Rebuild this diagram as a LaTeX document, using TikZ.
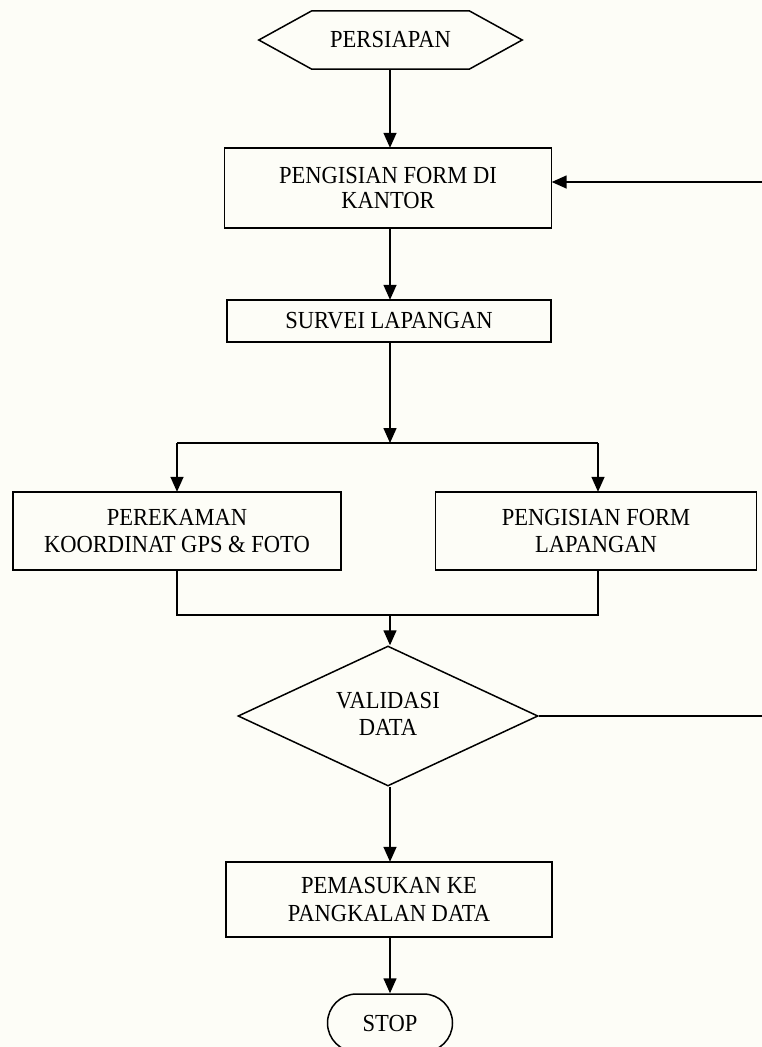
\documentclass[tikz,border=0pt]{standalone}
\usepackage{fontspec}
\setmainfont[FakeStretch=0.92]{Liberation Serif}
\usetikzlibrary{shapes.geometric,shapes.misc,arrows.meta,calc}
\definecolor{bg}{RGB}{253,253,247}
\tikzset{
  lbl/.style={align=center, inner sep=0pt, font=\fontsize{24.5}{25}\selectfont},
  wide/.style={font=\fontsize{24.5}{27.5}\selectfont},
  procbox/.style={lbl, rectangle},
  flow/.style={line width=1.5pt},
  arr/.style={flow, -{Triangle[length=15pt,width=13pt]}},
}
\begin{document}
\begin{tikzpicture}[x=1pt,y=-1pt]
\fill[bg] (0,0) rectangle (762,1047);
\useasboundingbox (0,0) rectangle (762,1047);

% start hexagon
\node[lbl, minimum width=263pt, minimum height=58pt] (prep) at (390.5,40) {PERSIAPAN};
\draw[flow] (prep.west) -- ([xshift=53pt]prep.north west) -- ([xshift=-53pt]prep.north east)
  -- (prep.east) -- ([xshift=-53pt]prep.south east) -- ([xshift=53pt]prep.south west) -- cycle;

\node[procbox, minimum width=327pt, minimum height=80pt] (kantor) at (388,188) {PENGISIAN FORM DI\\KANTOR};
\node[procbox, minimum width=324pt, minimum height=42pt] (survei) at (389,321) {SURVEI LAPANGAN};
\node[procbox, wide, minimum width=328pt, minimum height=78pt] (perek) at (177,531) {PEREKAMAN\\KOORDINAT GPS \& FOTO};
\node[procbox, wide, minimum width=321pt, minimum height=78pt] (lap) at (596,531) {PENGISIAN FORM\\LAPANGAN};
\node[lbl, wide, draw, diamond, aspect=2.14, minimum width=300pt, minimum height=140pt, line width=1.5pt] (val) at (388,716) {};
\node[lbl, wide] (valtxt) at ([yshift=2pt]val.center) {VALIDASI\\DATA};
\node[procbox, wide, minimum width=326pt, minimum height=75pt] (pem) at (389,899.5) {PEMASUKAN KE\\PANGKALAN DATA};
\node[lbl, draw, rounded rectangle, minimum width=125pt, minimum height=58pt, line width=1.5pt] (stop) at (390,1023) {STOP};

\foreach \n in {kantor,survei,perek,lap,pem}{\draw[flow] (\n.north west) rectangle (\n.south east);}

\coordinate (S) at (390,443);
\coordinate (L) at (177,443);
\coordinate (R) at (598,443);
\coordinate (M) at (390,615);
\coordinate (ML) at (177,615);
\coordinate (MR) at (598,615);
\coordinate (fb1) at (775,716);
\coordinate (fb2) at (775,182);

\draw[arr] (prep.south -| S) -- (kantor.north -| S);
\draw[arr] (kantor.south -| S) -- (survei.north -| S);
\draw[arr] (survei.south -| S) -- (S);
\draw[flow] (L) -- (R);
\draw[arr] (L) -- (perek.north -| L);
\draw[arr] (R) -- (lap.north -| R);
\draw[flow] (perek.south -| ML) -- (ML) -- (MR) -- (lap.south -| MR);
\draw[arr] (M) -- (val.north -| M);
\draw[arr] (val.south -| M) -- (pem.north -| M);
\draw[arr] (pem.south -| M) -- (stop.north -| M);
\draw[arr] (val.east) -- (fb1) -- (fb2) -- (kantor.east |- fb2);
\end{tikzpicture}
\end{document}
